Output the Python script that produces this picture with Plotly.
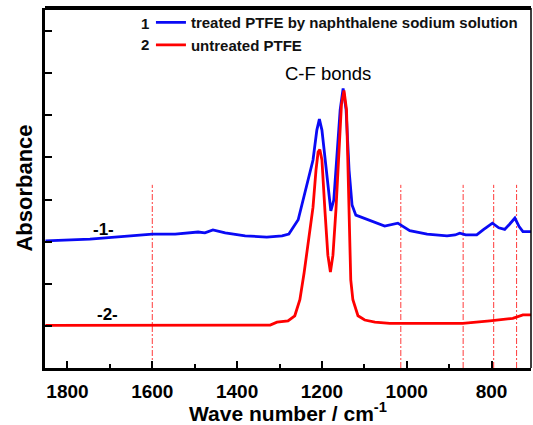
import plotly.graph_objects as go

# ---- data ----
treated_wn = [1852, 1747, 1600, 1546, 1492, 1476, 1457, 1428, 1381, 1330, 1294, 1278,
              1256, 1238, 1221, 1212, 1206, 1200, 1190, 1181, 1179, 1172, 1165, 1157,
              1150, 1143, 1136, 1129, 1120, 1082, 1052, 1021, 993, 952, 905, 886, 875,
              861, 835, 820, 798, 783, 769, 757, 745, 735, 726, 703]
treated_abs = [3.02, 3.06, 3.18, 3.18, 3.23, 3.21, 3.28, 3.21, 3.14, 3.11, 3.14, 3.18,
               3.52, 4.23, 4.94, 5.65, 5.91, 5.65, 4.70, 3.87, 3.73, 3.99, 4.94, 6.13,
               6.64, 6.13, 4.70, 3.87, 3.63, 3.49, 3.37, 3.44, 3.26, 3.18, 3.14, 3.16, 3.20,
               3.16, 3.16, 3.28, 3.44, 3.33, 3.29, 3.42, 3.56, 3.36, 3.24, 3.24]

untreated_wn = [1852, 1600, 1322, 1306, 1280, 1264, 1252, 1242, 1231, 1221, 1214, 1209,
                1205, 1200, 1193, 1186, 1180, 1174, 1167, 1160, 1154, 1148, 1142, 1139,
                1135, 1132, 1127, 1115, 1099, 1075, 1040, 945, 868, 804, 750, 726, 703]
untreated_abs = [1.01, 1.02, 1.02, 1.09, 1.12, 1.24, 1.62, 2.26, 3.04, 3.82, 4.70, 5.13,
                 5.19, 4.94, 3.75, 2.68, 2.28, 2.68, 3.75, 5.18, 6.25, 6.59, 6.13, 4.94,
                 3.28, 2.09, 1.62, 1.24, 1.14, 1.09, 1.06, 1.06, 1.06, 1.12, 1.18, 1.26, 1.26]

marker_wn = [1600, 1014, 867, 795, 741]
marker_top = 4.35

series_names = ["treated PTFE by naphthalene sodium solution", "untreated PTFE"]
series_numbers = ["1", "2"]
curve_labels = ["-1-", "-2-"]
curve_label_pos = [(1714, 3.30), (1705, 1.28)]

x_range = [1853, 707]
y_range = [0, 8.55]

FONT = "Liberation Sans, Arial, sans-serif"

fig = go.Figure()

for wn in marker_wn:
    fig.add_trace(go.Scatter(x=[wn, wn], y=[0, marker_top], mode="lines",
                             line=dict(color="#ff3b3b", width=1, dash="6px,2px,2px,2px"),
                             showlegend=False, hoverinfo="skip"))

fig.add_trace(go.Scatter(x=treated_wn, y=treated_abs, mode="lines", name=series_names[0],
                         line=dict(color="#0a0af5", width=2.8)))
fig.add_trace(go.Scatter(x=untreated_wn, y=untreated_abs, mode="lines", name=series_names[1],
                         line=dict(color="#ff0000", width=2.8)))

fig.update_layout(
    width=533, height=425,
    margin=dict(l=45, r=2, t=8, b=57, autoexpand=False),
    paper_bgcolor="white", plot_bgcolor="white",
    font=dict(family=FONT, color="black"),
    showlegend=True,
    legend=dict(x=0.218, y=1.005, xanchor="left", yanchor="top",
                bgcolor="rgba(0,0,0,0)", borderwidth=0,
                font=dict(family=FONT, size=15, color="#111", weight="bold"),
                tracegroupgap=0),
)

fig.update_xaxes(range=x_range, showgrid=False, zeroline=False, automargin=False,
                 showline=True, linecolor="black", linewidth=3, mirror=False,
                 ticks="inside", tick0=0, dtick=200, ticklen=7, tickwidth=2, tickcolor="black",
                 minor=dict(ticks="inside", dtick=100, ticklen=4, tickwidth=2, tickcolor="black"),
                 ticklabelstandoff=4,
                 tickfont=dict(family=FONT, size=19, color="black", weight="bold"),
                 title=dict(text="Wave number / cm<sup>-1</sup>",
                            font=dict(family=FONT, size=21, color="black", weight="bold"),
                            standoff=4))
fig.update_yaxes(range=y_range, showgrid=False, zeroline=False, automargin=False,
                 showline=True, linecolor="black", linewidth=3, mirror=False,
                 ticks="inside", tick0=0, dtick=1, ticklen=7, tickwidth=2, tickcolor="black",
                 showticklabels=False,
                 title=dict(text="Absorbance",
                            font=dict(family=FONT, size=22, color="black", weight="bold"),
                            standoff=4))

# frame lines (top thick, right thin)
fig.add_shape(type="line", xref="paper", yref="paper", x0=0, x1=1, y0=1, y1=1,
              line=dict(color="black", width=4))
fig.add_shape(type="line", xref="paper", yref="paper", x0=1, x1=1, y0=0, y1=1,
              line=dict(color="black", width=1.5))

# legend numbers
num_y = [0.9575, 0.8986]
for num, ny in zip(series_numbers, num_y):
    fig.add_annotation(text=f"<b>{num}</b>", xref="paper", yref="paper",
                       x=0.206, y=ny, xanchor="center", yanchor="middle",
                       showarrow=False, font=dict(family=FONT, size=15, color="#111"))

fig.add_annotation(text="C-F bonds", xref="x", yref="y", x=1185, y=7.0,
                   showarrow=False, font=dict(family=FONT, size=18.5, color="black"))

for lab, (lx, ly) in zip(curve_labels, curve_label_pos):
    fig.add_annotation(text=f"<b>{lab}</b>", x=lx, y=ly, xref="x", yref="y",
                       showarrow=False, font=dict(family=FONT, size=17, color="black"))

fig.write_html("out.html", config={"displayModeBar": False},
               post_script="document.body.style.margin='0';document.body.style.padding='0';")
